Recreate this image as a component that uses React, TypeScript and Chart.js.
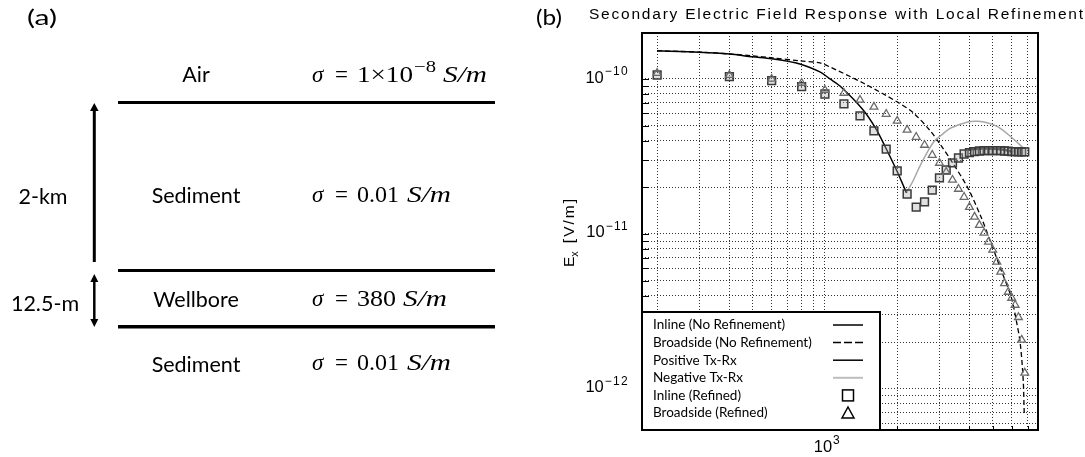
import React, { useEffect, useRef } from "react";
import { Chart, registerables } from "chart.js";

Chart.register(...registerables);

// ---------------- Panel (a) data ----------------
const layerNames = ["Air", "Sediment", "Wellbore", "Sediment"];
const layerSigma = ["1×10", "0.01", "380", "0.01"];
const airExponent = "−8";
const thicknessLabels = ["2-km", "12.5-m"];

// ---------------- Panel (b) data ----------------
const chartTitle = "Secondary Electric Field Response with Local Refinement";
const yAxisTitle = "[V/m]";

const xGridValues = [200, 300, 400, 500, 600, 700, 800, 900, 1000, 2000, 3000, 4000, 5000, 6000, 7000];
const yGridValues = [
  6e-13, 7e-13, 8e-13, 9e-13,
  1e-12, 2e-12, 3e-12, 4e-12, 5e-12, 6e-12, 7e-12, 8e-12, 9e-12,
  1e-11, 2e-11, 3e-11, 4e-11, 5e-11, 6e-11, 7e-11, 8e-11, 9e-11,
  1e-10,
];
const yTickExponents = [-10, -11, -12];
const xTickExponents = [3];

// Inline (No Refinement) – positive part (black solid)
const inlineX = [200, 300, 400, 500, 600, 786, 953, 1050, 1156, 1443, 1623, 1785, 2004, 2186];
const inlineY = [1.52e-10, 1.49e-10, 1.45e-10, 1.39e-10, 1.35e-10, 1.25e-10, 1.11e-10, 1.0e-10, 9.0e-11, 6.31e-11, 4.83e-11, 3.64e-11, 2.51e-11, 1.84e-11];

// Inline (No Refinement) – negative part (gray)
const negativeX = [2186, 2339, 2502, 2837, 3100, 3343, 3939, 4339, 4779, 5262, 5967, 6699];
const negativeY = [1.84e-11, 2.23e-11, 2.79e-11, 3.92e-11, 4.42e-11, 4.83e-11, 5.28e-11, 5.33e-11, 5.2e-11, 4.9e-11, 4.22e-11, 3.59e-11];

// Broadside (No Refinement) – dashed
const broadX = [200, 300, 400, 500, 600, 786, 953, 1050, 1443, 2004, 2339, 2756, 3035, 3408, 3939, 4467, 4918, 5417, 5967, 6261, 6508, 6699, 6764];
const broadY = [1.52e-10, 1.49e-10, 1.45e-10, 1.41e-10, 1.37e-10, 1.31e-10, 1.27e-10, 1.195e-10, 9.42e-11, 7.1e-11, 6.03e-11, 4.6e-11, 3.75e-11, 2.87e-11, 1.98e-11, 1.29e-11, 8.75e-12, 5.86e-12, 3.93e-12, 2.79e-12, 1.98e-12, 1.14e-12, 7.0e-13];

// Refined positive segment (black) under the inline squares
const refinedLineX = [3939, 4467, 5417, 6083];
const refinedLineY = [3.5e-11, 3.56e-11, 3.52e-11, 3.38e-11];

// Inline (Refined) – squares
const squareX = [200, 400, 600, 800, 1000, 1200, 1400, 1600, 1800, 2000, 2200, 2400, 2600, 2800, 3000, 3200, 3400, 3600, 3800, 4000, 4200, 4400, 4600, 4800, 5000, 5200, 5400, 5600, 5800, 6000, 6200, 6400, 6600, 6800];
const squareY = [1.061e-10, 1.035e-10, 9.75e-11, 8.92e-11, 8.0e-11, 6.9e-11, 5.77e-11, 4.62e-11, 3.53e-11, 2.55e-11, 1.81e-11, 1.49e-11, 1.61e-11, 1.92e-11, 2.3e-11, 2.59e-11, 2.87e-11, 3.09e-11, 3.28e-11, 3.35e-11, 3.4e-11, 3.43e-11, 3.45e-11, 3.45e-11, 3.45e-11, 3.45e-11, 3.45e-11, 3.43e-11, 3.42e-11, 3.4e-11, 3.4e-11, 3.38e-11, 3.38e-11, 3.38e-11];

// Broadside (Refined) – triangles
const triX = [200, 400, 600, 800, 1000, 1200, 1400, 1600, 1800, 2000, 2200, 2400, 2600, 2800, 3000, 3200, 3400, 3600, 3800, 4000, 4200, 4400, 4600, 4800, 5000, 5200, 5400, 5600, 5800, 6000, 6200, 6400, 6600, 6800];
const triY = [1.09e-10, 1.06e-10, 1.0e-10, 9.42e-11, 8.49e-11, 8.12e-11, 7.32e-11, 6.6e-11, 5.94e-11, 5.36e-11, 4.69e-11, 4.22e-11, 3.75e-11, 3.23e-11, 2.87e-11, 2.51e-11, 2.23e-11, 1.95e-11, 1.73e-11, 1.49e-11, 1.29e-11, 1.14e-11, 1.015e-11, 8.88e-12, 7.88e-12, 6.6e-12, 5.69e-12, 4.8e-12, 4.22e-12, 3.86e-12, 3.48e-12, 2.9e-12, 2.07e-12, 1.27e-12];

const legendLabels = [
  "Inline (No Refinement)",
  "Broadside (No Refinement)",
  "Positive Tx-Rx",
  "Negative Tx-Rx",
  "Inline (Refined)",
  "Broadside (Refined)",
];

const zip = (xs: number[], ys: number[]) => xs.map((x, i) => ({ x, y: ys[i] }));

const SANS = '"Liberation Sans", Arial, sans-serif';

function drawPower(ctx: CanvasRenderingContext2D, exp: number, x: number, y: number, align: "right" | "center") {
  const base = "10";
  const expText = (exp < 0 ? "−" : "") + Math.abs(exp);
  ctx.font = `16.5px ${SANS}`;
  (ctx as any).letterSpacing = "0px";
  const wb = ctx.measureText(base).width;
  ctx.font = `12px ${SANS}`;
  (ctx as any).letterSpacing = "1.3px";
  const we = ctx.measureText(expText).width;
  let bx: number;
  if (align === "right") bx = x - we - wb - 1;
  else bx = x - wb / 2 - 2;
  ctx.textAlign = "left";
  ctx.textBaseline = "middle";
  ctx.font = `16.5px ${SANS}`;
  (ctx as any).letterSpacing = "0px";
  ctx.fillText(base, bx, y);
  ctx.font = `12px ${SANS}`;
  (ctx as any).letterSpacing = "1.3px";
  ctx.fillText(expText, bx + wb + 1, y - 6.5);
  (ctx as any).letterSpacing = "0px";
}

const decorPlugin = {
  id: "decor",
  afterDraw(chart: any) {
    const { ctx, chartArea: a, scales } = chart;
    const xs = scales.x;
    const ys = scales.y;
    ctx.save();
    ctx.fillStyle = "#000";
    ctx.strokeStyle = "#000";

    // inward tick marks
    ctx.lineWidth = 1;
    ctx.beginPath();
    yGridValues.forEach((v) => {
      const p = Math.round(ys.getPixelForValue(v)) + 0.5;
      ctx.moveTo(a.left, p);
      ctx.lineTo(a.left + 7, p);
    });
    xGridValues.forEach((v) => {
      const p = Math.round(xs.getPixelForValue(v)) + 0.5;
      ctx.moveTo(p, a.bottom);
      ctx.lineTo(p, a.bottom - 4);
    });
    ctx.stroke();

    // legend box
    const lx = a.left;
    const ly = 312;
    const lw = 238;
    const lh = a.bottom - ly;
    ctx.fillStyle = "#fff";
    ctx.fillRect(lx, ly, lw, lh);
    ctx.lineWidth = 2;
    ctx.strokeStyle = "#000";
    ctx.strokeRect(lx, ly, lw, lh);
    ctx.fillStyle = "#000";
    ctx.font = '13.5px Lato, sans-serif';
    ctx.textAlign = "left";
    ctx.textBaseline = "middle";
    const symX = lx + 206;
    legendLabels.forEach((t, i) => {
      const ry = ly + 13 + i * 17.6;
      ctx.fillStyle = "#000";
      ctx.fillText(t, lx + 11, ry);
      ctx.save();
      if (i <= 3) {
        ctx.beginPath();
        ctx.moveTo(symX - 15, ry);
        ctx.lineTo(symX + 15, ry);
        ctx.lineWidth = i === 3 ? 2 : 1.5;
        ctx.strokeStyle = i === 3 ? "#bdbdbd" : "#000";
        if (i === 1) ctx.setLineDash([8, 3]);
        ctx.stroke();
      } else if (i === 4) {
        ctx.lineWidth = 1.5;
        ctx.strokeStyle = "#000";
        ctx.strokeRect(symX - 5.5, ry - 5.5, 11, 11);
      } else {
        ctx.lineWidth = 1.5;
        ctx.strokeStyle = "#000";
        ctx.beginPath();
        ctx.moveTo(symX, ry - 6);
        ctx.lineTo(symX + 6, ry + 5);
        ctx.lineTo(symX - 6, ry + 5);
        ctx.closePath();
        ctx.stroke();
      }
      ctx.restore();
    });

    // frame
    ctx.lineWidth = 2;
    ctx.strokeStyle = "#000";
    ctx.strokeRect(a.left, a.top, a.right - a.left, a.bottom - a.top);

    // tick labels
    ctx.fillStyle = "#000";
    yTickExponents.forEach((e) => {
      drawPower(ctx, e, a.left - 13, ys.getPixelForValue(Math.pow(10, e)) - 1, "right");
    });
    xTickExponents.forEach((e) => {
      drawPower(ctx, e, xs.getPixelForValue(Math.pow(10, e)), a.bottom + 17, "center");
    });

    // title
    ctx.font = `15.5px ${SANS}`;
    (ctx as any).letterSpacing = "0px";
    const tw = ctx.measureText(chartTitle).width;
    const ls = (494 - tw) / (chartTitle.length - 1);
    (ctx as any).letterSpacing = `${ls}px`;
    ctx.textAlign = "left";
    ctx.textBaseline = "alphabetic";
    ctx.fillText(chartTitle, 589, 19);
    (ctx as any).letterSpacing = "0px";

    // y axis title E_x [V/m]
    ctx.save();
    ctx.translate(570, 232);
    ctx.rotate(-Math.PI / 2);
    ctx.textBaseline = "middle";
    ctx.font = `15.5px ${SANS}`;
    const wE = ctx.measureText("E").width;
    ctx.font = `11px ${SANS}`;
    const wx = ctx.measureText("x").width;
    ctx.font = `15.5px ${SANS}`;
    (ctx as any).letterSpacing = "2px";
    const wr = ctx.measureText(yAxisTitle).width;
    const gap = 8;
    const total = wE + wx + gap + wr;
    let u = -total / 2;
    (ctx as any).letterSpacing = "0px";
    ctx.fillText("E", u, 0);
    u += wE;
    ctx.font = `11px ${SANS}`;
    ctx.fillText("x", u, 5);
    u += wx + gap;
    ctx.font = `15.5px ${SANS}`;
    (ctx as any).letterSpacing = "2px";
    ctx.fillText(yAxisTitle, u, 0);
    (ctx as any).letterSpacing = "0px";
    ctx.restore();

    ctx.restore();
  },
};

function Schematic() {
  const sans = "Lato, sans-serif";
  const serif = '"Liberation Serif", "DejaVu Serif", serif';
  const nameBaselines = [82, 203, 307, 372];
  const sigmaBaselines = [82, 202, 306, 370];
  const valueWidths = [56, 42, 39, 42];
  const unitX = [443, 407, 403, 407];
  return (
    <svg width={1085} height={457} style={{ position: "absolute", left: 0, top: 0, pointerEvents: "none" }}>
      <text x={27} y={25} fontFamily={sans} fontSize={22} textLength={30} lengthAdjust="spacingAndGlyphs">(a)</text>
      <text x={536} y={25} fontFamily={sans} fontSize={22} textLength={26} lengthAdjust="spacingAndGlyphs">(b)</text>
      {layerNames.map((n, i) => (
        <text key={"n" + i} x={196} y={nameBaselines[i]} textAnchor="middle" fontFamily={sans} fontSize={21.5}>
          {n}
        </text>
      ))}
      {layerSigma.map((v, i) => (
        <g key={"s" + i} fontFamily={serif} fontSize={23}>
          <text x={312} y={sigmaBaselines[i]} fontStyle="italic">σ</text>
          <text x={335} y={sigmaBaselines[i]}>=</text>
          <text x={357} y={sigmaBaselines[i]} textLength={valueWidths[i]} lengthAdjust="spacingAndGlyphs">{v}</text>
          {i === 0 && (
            <text x={414} y={72} fontSize={16} textLength={22} lengthAdjust="spacingAndGlyphs">{airExponent}</text>
          )}
          <text x={unitX[i]} y={sigmaBaselines[i]} fontStyle="italic" textLength={44} lengthAdjust="spacingAndGlyphs">S/m</text>
        </g>
      ))}
      <rect x={118} y={101} width={377} height={3} fill="#000" />
      <rect x={118} y={269} width={377} height={3} fill="#000" />
      <rect x={118} y={325} width={377} height={3.5} fill="#000" />
      {/* 2-km arrow */}
      <line x1={94.3} y1={109} x2={94.3} y2={262} stroke="#000" strokeWidth={3} />
      <polygon points="94.3,103 90,111 98.6,111" fill="#000" />
      {/* 12.5-m double arrow */}
      <line x1={94.3} y1={280} x2={94.3} y2={321} stroke="#000" strokeWidth={2.5} />
      <polygon points="94.3,274 90.3,282 98.3,282" fill="#000" />
      <polygon points="94.3,327 90.3,319 98.3,319" fill="#000" />
      <text x={43} y={204} textAnchor="middle" fontFamily={sans} fontSize={21.5}>{thicknessLabels[0]}</text>
      <text x={45} y={311} textAnchor="middle" fontFamily={sans} fontSize={21.5}>{thicknessLabels[1]}</text>
    </svg>
  );
}

export default function App() {
  const canvasRef = useRef<HTMLCanvasElement | null>(null);

  useEffect(() => {
    if (!canvasRef.current) return;
    const chart = new Chart(canvasRef.current, {
      type: "line",
      data: {
        datasets: [
          {
            label: "Broadside (Refined)",
            data: zip(triX, triY),
            showLine: false,
            pointStyle: "triangle",
            pointRadius: 4.5,
            pointBorderWidth: 1.3,
            borderColor: "#6a6a6a",
            backgroundColor: "rgba(0,0,0,0)",
          },
          {
            label: "Inline (Refined)",
            data: zip(squareX, squareY),
            showLine: false,
            pointStyle: "rect",
            pointRadius: 5.5,
            pointBorderWidth: 1.5,
            borderColor: "#3a3a3a",
            backgroundColor: "rgba(170,170,170,0.35)",
          },
          {
            label: "Inline (No Refinement)",
            data: zip(inlineX, inlineY),
            borderColor: "#000",
            borderWidth: 1.5,
            pointRadius: 0,
            tension: 0.3,
          },
          {
            label: "Negative Tx-Rx",
            data: zip(negativeX, negativeY),
            borderColor: "#a8a8a8",
            borderWidth: 1.5,
            pointRadius: 0,
            tension: 0.35,
          },
          {
            label: "Broadside (No Refinement)",
            data: zip(broadX, broadY),
            borderColor: "#000",
            borderWidth: 1.3,
            borderDash: [5, 3],
            pointRadius: 0,
            tension: 0.3,
          },
          {
            label: "Positive Tx-Rx",
            data: zip(refinedLineX, refinedLineY),
            borderColor: "#000",
            borderWidth: 2.5,
            pointRadius: 0,
            tension: 0.3,
          },
        ],
      },
      options: {
        responsive: false,
        animation: false,
        devicePixelRatio: 1,
        layout: { padding: { left: 530, top: 33, right: 47, bottom: 0 } },
        plugins: {
          legend: { display: false },
          tooltip: { enabled: false },
          title: { display: false },
        },
        scales: {
          x: {
            type: "logarithmic",
            min: 173,
            max: 7720,
            afterBuildTicks: (s: any) => {
              s.ticks = xGridValues.map((v) => ({ value: v }));
            },
            afterFit: (s: any) => {
              s.height = 27;
            },
            ticks: { display: false },
            grid: { color: "#333", lineWidth: 1, drawTicks: false },
            border: { display: false, dash: [1, 2] },
          },
          y: {
            type: "logarithmic",
            min: 5.43e-13,
            max: 1.98e-10,
            afterBuildTicks: (s: any) => {
              s.ticks = yGridValues.map((v) => ({ value: v }));
            },
            afterFit: (s: any) => {
              s.width = 112;
            },
            ticks: { display: false },
            grid: { color: "#333", lineWidth: 1, drawTicks: false },
            border: { display: false, dash: [1, 2] },
          },
        },
      } as any,
      plugins: [decorPlugin as any],
    });
    return () => chart.destroy();
  }, []);

  return (
    <div style={{ position: "absolute", left: 0, top: 0, width: 1085, height: 457, background: "#fff" }}>
      <canvas ref={canvasRef} width={1085} height={457} style={{ position: "absolute", left: 0, top: 0 }} />
      <Schematic />
    </div>
  );
}
